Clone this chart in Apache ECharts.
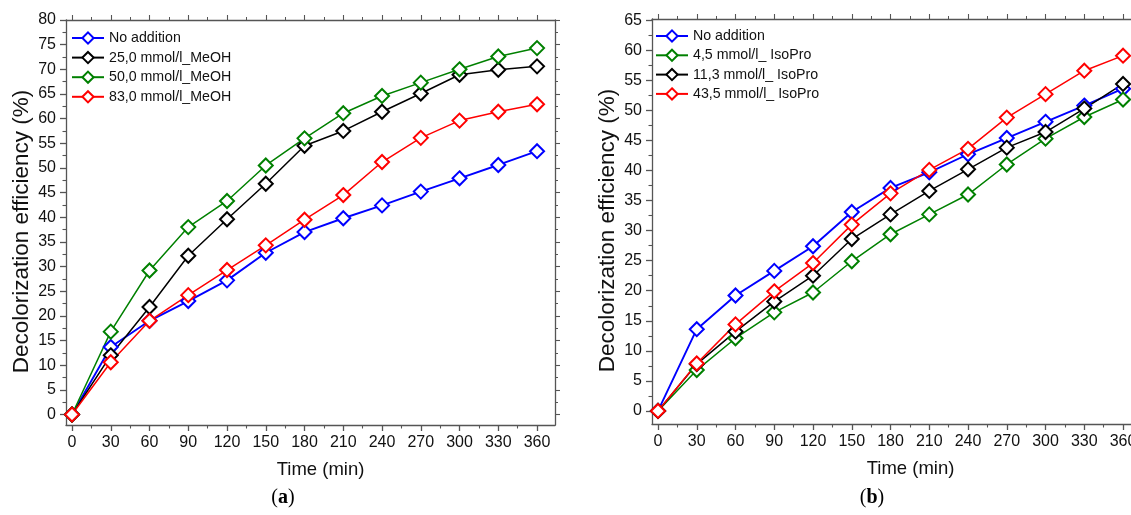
<!DOCTYPE html>
<html><head><meta charset="utf-8">
<script src="https://cdn.jsdelivr.net/npm/echarts@6/dist/echarts.min.js"></script>
<style>html,body{margin:0;padding:0;background:#fff}#c{width:1131px;height:515px}</style>
</head><body><div id="c"></div>
<script>
// ---------- data ----------
const times = [0, 30, 60, 90, 120, 150, 180, 210, 240, 270, 300, 330, 360];

// panel (a) – MeOH
const namesA = ['No addition', '25,0 mmol/l_MeOH', '50,0 mmol/l_MeOH', '83,0 mmol/l_MeOH'];
const noAdditionA = [0, 13.7, 19.0, 23.0, 27.2, 32.8, 37.0, 39.8, 42.4, 45.2, 47.9, 50.6, 53.4];
const meoh25 = [0, 12.0, 21.8, 32.2, 39.6, 46.8, 54.5, 57.5, 61.4, 65.1, 68.9, 69.9, 70.6];
const meoh50 = [0, 16.8, 29.2, 38.0, 43.3, 50.5, 56.0, 61.1, 64.6, 67.3, 70.0, 72.6, 74.3];
const meoh83 = [0, 10.6, 19.0, 24.2, 29.3, 34.3, 39.5, 44.5, 51.2, 56.1, 59.6, 61.4, 62.9];

// panel (b) – IsoPro
const namesB = ['No addition', '4,5 mmol/l_ IsoPro', '11,3 mmol/l_ IsoPro', '43,5 mmol/l_ IsoPro'];
const noAdditionB = [0, 13.6, 19.2, 23.3, 27.4, 33.1, 37.1, 39.7, 42.7, 45.4, 48.1, 50.8, 53.6];
const isopro45 = [0, 6.8, 12.1, 16.4, 19.7, 24.9, 29.4, 32.7, 36.0, 41.0, 45.3, 48.9, 51.8];
const isopro113 = [0, 7.8, 13.2, 18.2, 22.5, 28.6, 32.7, 36.6, 40.2, 43.8, 46.4, 50.3, 54.4];
const isopro435 = [0, 7.9, 14.4, 19.9, 24.6, 31.0, 36.2, 40.1, 43.6, 48.8, 52.7, 56.6, 59.1];

// ticks
const xMajor = [0, 30, 60, 90, 120, 150, 180, 210, 240, 270, 300, 330, 360];
const xMinor = [15, 45, 75, 105, 135, 165, 195, 225, 255, 285, 315, 345];
const yMajorA = [0, 5, 10, 15, 20, 25, 30, 35, 40, 45, 50, 55, 60, 65, 70, 75, 80];
const yMinorA = [2.5, 7.5, 12.5, 17.5, 22.5, 27.5, 32.5, 37.5, 42.5, 47.5, 52.5, 57.5, 62.5, 67.5, 72.5, 77.5];
const yMajorB = [0, 5, 10, 15, 20, 25, 30, 35, 40, 45, 50, 55, 60, 65];
const yMinorB = [2.5, 7.5, 12.5, 17.5, 22.5, 27.5, 32.5, 37.5, 42.5, 47.5, 52.5, 57.5, 62.5];

// ---------- styling ----------
const AX = '#555';
const TXT = '#111';
const colorsA = ['#0000ff', '#000000', '#008000', '#ff0000'];
const colorsB = ['#0000ff', '#008000', '#000000', '#ff0000'];

function xAxesFor(gi, min, max, titleShift) {
  const base = {type: 'value', gridIndex: gi, min: min, max: max, splitLine: {show: false}};
  return [
    Object.assign({}, base, {
      position: 'bottom', name: 'Time (min)', nameLocation: 'middle', nameGap: 35,
      nameTextStyle: {fontSize: 18.5, color: TXT, fontFamily: 'Liberation Sans', padding: [0, 0, 0, titleShift]},
      axisLine: {show: true, onZero: false, lineStyle: {color: AX, width: 1.3}},
      axisTick: {show: true, length: 6, customValues: xMajor, lineStyle: {color: AX, width: 1.3}},
      axisLabel: {show: true, customValues: xMajor, margin: 10, fontSize: 16, color: TXT, fontFamily: 'Liberation Sans'}
    }),
    Object.assign({}, base, {
      position: 'bottom',
      axisLine: {show: false, onZero: false},
      axisTick: {show: true, length: 3.5, customValues: xMinor, lineStyle: {color: AX, width: 1.1}},
      axisLabel: {show: false}
    }),
    Object.assign({}, base, {
      position: 'top',
      axisLine: {show: true, onZero: false, lineStyle: {color: AX, width: 1.3}},
      axisTick: {show: true, length: 5, customValues: xMajor, lineStyle: {color: AX, width: 1.1}},
      axisLabel: {show: false}
    }),
    Object.assign({}, base, {
      position: 'top',
      axisLine: {show: false, onZero: false},
      axisTick: {show: true, length: 3, customValues: xMinor, lineStyle: {color: AX, width: 1}},
      axisLabel: {show: false}
    })
  ];
}

function yAxesFor(gi, min, max, major, minor) {
  const base = {type: 'value', gridIndex: gi, min: min, max: max, splitLine: {show: false}};
  return [
    Object.assign({}, base, {
      position: 'left', name: 'Decolorization efficiency (%)', nameLocation: 'middle', nameGap: 33,
      nameTextStyle: {fontSize: 22.5, color: TXT, fontFamily: 'Liberation Sans', padding: [0, 18, 0, 0]},
      axisLine: {show: true, onZero: false, lineStyle: {color: AX, width: 1.3}},
      axisTick: {show: true, length: 6, customValues: major, lineStyle: {color: AX, width: 1.3}},
      axisLabel: {show: true, customValues: major, margin: 10, fontSize: 16, color: TXT, fontFamily: 'Liberation Sans'}
    }),
    Object.assign({}, base, {
      position: 'left',
      axisLine: {show: false, onZero: false},
      axisTick: {show: true, length: 3.5, customValues: minor, lineStyle: {color: AX, width: 1.1}},
      axisLabel: {show: false}
    }),
    Object.assign({}, base, {
      position: 'right',
      axisLine: {show: true, onZero: false, lineStyle: {color: AX, width: 1.3}},
      axisTick: {show: true, length: 5, customValues: major, lineStyle: {color: AX, width: 1.1}},
      axisLabel: {show: false}
    }),
    Object.assign({}, base, {
      position: 'right',
      axisLine: {show: false, onZero: false},
      axisTick: {show: true, length: 3, customValues: minor, lineStyle: {color: AX, width: 1}},
      axisLabel: {show: false}
    })
  ];
}

function lineSeries(name, values, color, xi, yi) {
  return {
    type: 'line', name: name, xAxisIndex: xi, yAxisIndex: yi,
    data: times.map((t, i) => [t, values[i]]),
    symbol: 'emptyDiamond', symbolSize: 14, showAllSymbol: true,
    lineStyle: {color: color, width: color === '#0000ff' ? 1.9 : 1.5},
    itemStyle: {color: color, borderColor: color, borderWidth: 1.2},
    emphasis: {disabled: true}, animation: false
  };
}

const seriesA = [noAdditionA, meoh25, meoh50, meoh83];
const seriesB = [noAdditionB, isopro45, isopro113, isopro435];

const series = [];
namesA.forEach((n, i) => series.push(lineSeries(n, seriesA[i], colorsA[i], 0, 0)));
namesB.forEach((n, i) => series.push(lineSeries(n, seriesB[i], colorsB[i], 4, 4)));

const chart = echarts.init(document.getElementById('c'), null, {renderer: 'canvas'});
chart.setOption({
  animation: false,
  backgroundColor: '#fff',
  textStyle: {fontFamily: 'Liberation Sans'},
  grid: [
    {left: 66, top: 20, width: 489, height: 405, outerBoundsMode: 'none', containLabel: false},
    {left: 652, top: 19, width: 489, height: 405, outerBoundsMode: 'none', containLabel: false}
  ],
  xAxis: xAxesFor(0, -4.65, 373.9, 20).concat(xAxesFor(1, -4.65, 373.9, 28)),
  yAxis: yAxesFor(0, -2.13, 80, yMajorA, yMinorA).concat(yAxesFor(1, -2.17, 65.2, yMajorB, yMinorB)),
  legend: [
    {data: namesA.map((n) => ({name: n})), orient: 'vertical', left: 71, top: 31, padding: 0,
     itemWidth: 32, itemHeight: 14, itemGap: 5.6, selectedMode: false,
     textStyle: {fontSize: 14.2, color: TXT, fontFamily: 'Liberation Sans'}},
    {data: namesB.map((n) => ({name: n})), orient: 'vertical', left: 655, top: 29, padding: 0,
     itemWidth: 32, itemHeight: 14, itemGap: 5.3, selectedMode: false,
     textStyle: {fontSize: 14.2, color: TXT, fontFamily: 'Liberation Sans'}}
  ],
  graphic: [
    {type: 'text', x: 283, y: 498, style: {text: '{p|(}{b|a}{p|)}', textAlign: 'center', textVerticalAlign: 'middle',
      rich: {p: {fontSize: 20, fontFamily: 'Liberation Serif', fill: '#000'}, b: {fontSize: 20, fontWeight: 'bold', fontFamily: 'Liberation Serif', fill: '#000'}}}},
    {type: 'text', x: 872, y: 498, style: {text: '{p|(}{b|b}{p|)}', textAlign: 'center', textVerticalAlign: 'middle',
      rich: {p: {fontSize: 20, fontFamily: 'Liberation Serif', fill: '#000'}, b: {fontSize: 20, fontWeight: 'bold', fontFamily: 'Liberation Serif', fill: '#000'}}}}
  ],
  series: series
});
</script>
</body></html>
